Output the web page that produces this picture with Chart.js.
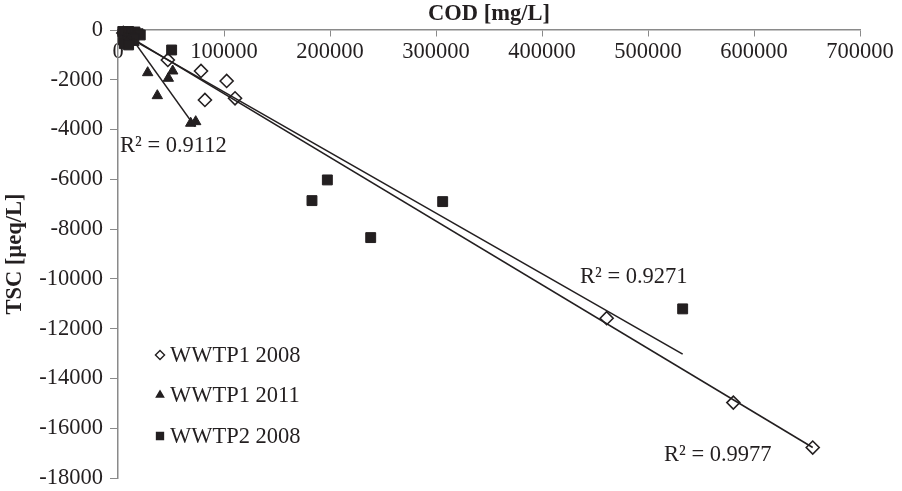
<!DOCTYPE html>
<html lang="en">
<head>
<meta charset="utf-8">
<title>TSC vs COD</title>
<script src="https://cdn.jsdelivr.net/npm/chart.js"></script>
<style>
  html, body { margin: 0; padding: 0; background: #fff; }
  #wrap { width: 902px; height: 491px; }
</style>
</head>
<body>
<div id="wrap"><canvas id="chart"></canvas></div>
<script>
// ---------------- data ----------------
const seriesNames = ['WWTP1 2008', 'WWTP1 2011', 'WWTP2 2008'];

// WWTP1 2008 (open diamonds)
const wwtp1_2008_cod = [5000, 9000, 14000, 47000, 78300, 82000, 102500, 110400, 461000, 580500, 655400];
const wwtp1_2008_tsc = [-120, -200, -300, -1205, -1647, -2811, -2048, -2743, -11580, -14970, -16775];

// WWTP1 2011 (filled triangles)
const wwtp1_2011_cod = [7000, 11000, 15000, 28000, 37100, 47500, 51600, 68600, 73300];
const wwtp1_2011_tsc = [-250, -400, -500, -1715, -2638, -1940, -1647, -3747, -3683];

// WWTP2 2008 (filled squares)
const wwtp2_2008_cod = [4500, 7000, 10000, 13000, 16000, 19000, 21000, 5000, 9000, 12000, 15000, 6000, 10000, 50600, 183000, 197500, 238400, 306300, 532700];
const wwtp2_2008_tsc = [-60, -150, -60, -120, -80, -150, -200, -400, -450, -300, -350, -550, -600, -803, -6855, -6024, -8341, -6895, -11205];

// linear trendline end points [cod, tsc] and their R² labels
const trend1_2008 = [[5000, -125], [655400, -16775]];
const trend1_2011 = [[10000, -157], [72600, -3883]];
const trend2_2008 = [[5000, -177], [532700, -13025]];
const r2Labels = ['R² = 0.9977', 'R² = 0.9112', 'R² = 0.9271'];

const xTicks = [0, 100000, 200000, 300000, 400000, 500000, 600000, 700000];
const yTicks = [0, -2000, -4000, -6000, -8000, -10000, -12000, -14000, -16000, -18000];
// ---------------------------------------------------------------

const FONT = '"Liberation Serif", "Times New Roman", serif';
const INK = '#231f20';
const AXIS = '#8a8a8a';
const FS = 22.5;

const pts = (xs, ys) => xs.map((x, i) => ({ x, y: ys[i] }));
const seg = (p) => p.map(([x, y]) => ({ x, y }));

const markerStyle = [
  { pointStyle: 'rectRot', radius: 6.5, bg: '#fff', border: INK, bw: 1.6 },
  { pointStyle: 'triangle', radius: 6, bg: INK, border: INK, bw: 1 },
  { pointStyle: 'rect', radius: 7, bg: INK, border: INK, bw: 1 },
];

// lower order = drawn later (on top): squares over triangles over diamonds
const scatterSet = (label, data, m, order) => ({
  type: 'scatter', label, data, order, clip: false,
  pointStyle: m.pointStyle, pointRadius: m.radius, pointHoverRadius: m.radius,
  backgroundColor: m.bg, borderColor: m.border, pointBorderWidth: m.bw, borderWidth: m.bw,
});
const trendSet = (data) => ({
  type: 'line', label: 'trend', data, order: 1, clip: false,
  borderColor: INK, borderWidth: 1.6, pointRadius: 0, fill: false, tension: 0,
});

// axis title, R² texts and in-plot legend
const annotations = {
  id: 'annotations',
  afterDraw(chart) {
    const { ctx, chartArea: ca } = chart;
    ctx.save();
    ctx.fillStyle = INK;
    ctx.font = 'bold ' + FS + 'px ' + FONT;
    ctx.textAlign = 'center';
    ctx.textBaseline = 'middle';
    ctx.fillText('COD [mg/L]', (ca.left + ca.right) / 2, 14);

    ctx.font = FS + 'px ' + FONT;
    ctx.textAlign = 'left';
    ctx.fillText(r2Labels[1], 120, 146);
    ctx.fillText(r2Labels[2], 580, 277);
    ctx.fillText(r2Labels[0], 664, 455);

    // legend
    const rows = [355, 395, 436];
    rows.forEach((y, i) => {
      const m = markerStyle[i];
      ctx.fillStyle = m.bg;
      ctx.strokeStyle = INK;
      ctx.lineWidth = 1.4;
      Chart.helpers.drawPoint(ctx, {
        pointStyle: m.pointStyle, radius: m.radius * 0.7, rotation: 0, borderWidth: 1.4,
      }, 160, y);
      ctx.fillStyle = INK;
      ctx.fillText(seriesNames[i], 170, y + 1);
    });
    ctx.restore();
  }
};

new Chart(document.getElementById('chart'), {
  data: {
    datasets: [
      scatterSet(seriesNames[0], pts(wwtp1_2008_cod, wwtp1_2008_tsc), markerStyle[0], 4),
      scatterSet(seriesNames[1], pts(wwtp1_2011_cod, wwtp1_2011_tsc), markerStyle[1], 3),
      scatterSet(seriesNames[2], pts(wwtp2_2008_cod, wwtp2_2008_tsc), markerStyle[2], 2),
      trendSet(seg(trend1_2008)),
      trendSet(seg(trend1_2011)),
      trendSet(seg(trend2_2008)),
    ]
  },
  options: {
    responsive: true,
    maintainAspectRatio: false,
    animation: false,
    layout: { padding: { top: 30, right: 42, bottom: 13, left: 0 } },
    plugins: { legend: { display: false }, tooltip: { enabled: false } },
    scales: {
      x: {
        type: 'linear',
        position: { y: 0 },
        min: 0, max: 700000,
        afterBuildTicks: (s) => { s.ticks = xTicks.map(v => ({ value: v })); },
        afterFit: (s) => { s.paddingLeft = 0; s.paddingRight = 0; s.paddingTop = 0; s.paddingBottom = 0; },
        grid: { drawOnChartArea: false, drawTicks: true, tickLength: 6, color: AXIS, tickColor: AXIS },
        border: { display: true, color: AXIS, width: 1.5 },
        ticks: { color: INK, font: { family: FONT, size: FS }, padding: 3, maxRotation: 0, autoSkip: false,
                 callback: (v) => String(v) },
      },
      y: {
        type: 'linear',
        position: 'left',
        min: -18000, max: 0,
        afterBuildTicks: (s) => { s.ticks = yTicks.map(v => ({ value: v })); },
        afterFit: (s) => { s.width = 118; s.paddingTop = 0; s.paddingBottom = 0; },
        grid: { drawOnChartArea: false, drawTicks: true, tickLength: 8, color: AXIS, tickColor: AXIS },
        border: { display: true, color: AXIS, width: 1.5 },
        ticks: { color: INK, font: { family: FONT, size: FS }, padding: 7, autoSkip: false,
                 callback: (v) => String(v) },
        title: { display: true, text: 'TSC [µeq/L]', color: INK, font: { family: FONT, size: FS, weight: 'bold' }, padding: { top: 2, bottom: 0 } },
      }
    }
  },
  plugins: [annotations]
});
</script>
</body>
</html>
